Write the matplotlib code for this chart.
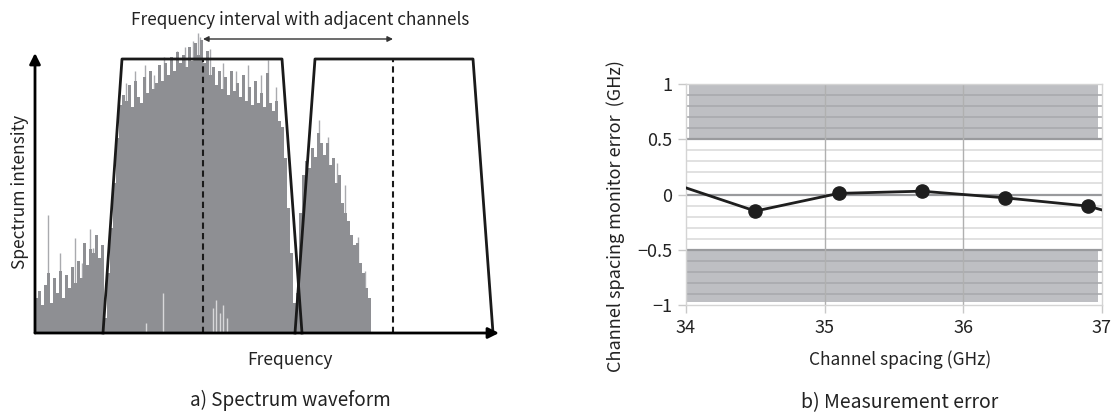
import numpy as np
import matplotlib.pyplot as plt

plt.rcParams['font.family'] = ['Noto Sans CJK JP', 'DejaVu Sans']

# ---- panel a) spectrum (heights, one bar every 3 units)
spec_x = np.arange(0, 334, 3)
spec_h = [35, 42, 28, 48, 60, 30, 55, 40, 62, 35, 58, 45, 66, 50, 72, 55, 90, 68, 84, 80,
          98, 75, 88, 15, 60, 105, 150, 195, 228, 238, 232, 248, 226, 252, 236, 230, 256, 240,
          262, 244, 250, 268, 252, 270, 258, 276, 262, 281, 270, 278, 266, 286, 272, 290, 278,
          293, 270, 282, 258, 266, 248, 262, 244, 256, 238, 262, 242, 250, 236, 258, 232, 246,
          228, 252, 230, 240, 226, 260, 230, 222, 232, 212, 206, 175, 125, 80, 30, 40, 120, 158,
          172, 165, 185, 176, 200, 190, 178, 190, 168, 175, 150, 158, 130, 120, 112, 98, 88, 90,
          70, 60, 45, 35]
# thin lighter spikes standing above the body
spike_x = [13, 25, 40, 47, 55, 58, 91, 100, 110, 119, 129, 142, 150, 158, 163, 165, 175,
           188, 201, 213, 226, 233, 241, 284, 293, 302, 310, 323, 330]
spike_h = [118, 80, 95, 70, 104, 85, 250, 262, 268, 258, 276, 282, 286, 292, 300, 296, 284,
           270, 262, 268, 258, 273, 246, 213, 196, 170, 148, 96, 62]
# light gaps near the bottom of the main band
gap_x = [111, 128, 178, 181, 185, 188, 192]
gap_h = [10, 40, 25, 33, 20, 28, 15]

# channel filter shapes (trapezoids) and channel centres
filt1_x = [68, 87, 247, 267]
filt2_x = [260, 280, 438, 458]
filt_top = 274
centre_x = [168, 358]

# ---- panel b) measurement error
line_x = [34.0, 34.5, 35.1, 35.7, 36.3, 36.9, 37.0]
line_y = [0.06, -0.15, 0.01, 0.03, -0.03, -0.105, -0.14]
x_ticks = [34, 35, 36, 37]
y_ticks = [-1, -0.5, 0, 0.5, 1]
y_tick_labels = ['\u22121', '\u22120.5', '0', '0.5', '1']

W, H = 1115, 416
fig = plt.figure(figsize=(W / 100, H / 100), dpi=100)

# ---------------- left panel
ax1 = fig.add_axes([35 / W, (H - 333) / H, 462 / W, 276 / H])
ax1.set_xlim(0, 462)
ax1.set_ylim(0, 276)
ax1.axis('off')

ax1.bar(spec_x, spec_h, width=3, color='#8e8f93', align='edge', clip_on=False, zorder=1)
ax1.vlines(spike_x, 0, spike_h, color='#a9aaae', lw=1, clip_on=False, zorder=0.5)
ax1.vlines(gap_x, 0, gap_h, color='#d8d8da', lw=1, zorder=2)

for fx in (filt1_x, filt2_x):
    ax1.plot(fx, [0, filt_top, filt_top, 0], color='#1a1a1a', lw=2, clip_on=False, zorder=4)
for cx in centre_x:
    ax1.plot([cx, cx], [0, filt_top], color='#1a1a1a', lw=1.5, dashes=(3, 2), zorder=4)

# axis arrows
ax1.annotate('', xy=(464, 0), xytext=(0, 0),
             arrowprops=dict(arrowstyle='-|>', lw=2, color='black', mutation_scale=16,
                             shrinkA=0, shrinkB=0), annotation_clip=False, zorder=5)
ax1.annotate('', xy=(0, 280), xytext=(0, 0),
             arrowprops=dict(arrowstyle='-|>', lw=2, color='black', mutation_scale=16,
                             shrinkA=0, shrinkB=0), annotation_clip=False, zorder=5)
# channel interval arrow
ax1.annotate('', xy=(358, 294), xytext=(168, 294),
             arrowprops=dict(arrowstyle='<|-|>', lw=1, color='#333333', mutation_scale=8,
                             shrinkA=0, shrinkB=0), annotation_clip=False)

fig.text(300 / W, 1 - 20 / H, 'Frequency interval with adjacent channels',
         ha='center', va='center', fontsize=12.3, color='#222222')
fig.text(290 / W, 1 - 360 / H, 'Frequency', ha='center', va='center', fontsize=12.5,
         color='#222222')
fig.text(20 / W, 1 - 192 / H, 'Spectrum intensity', ha='center', va='center', fontsize=12.5,
         rotation=90, color='#222222')
fig.text(290 / W, 1 - 400 / H, 'a) Spectrum waveform', ha='center', va='center',
         fontsize=13.6, color='#222222')

# ---------------- right panel
ax2 = fig.add_axes([686 / W, (H - 305) / H, 416 / W, 221 / H])
ax2.set_xlim(34, 37)
ax2.set_ylim(-1, 1)

ax2.axhspan(0.5, 1.0, xmin=0.007, xmax=0.99, color='#bebfc3', lw=0, zorder=0)
ax2.axhspan(-0.97, -0.5, xmin=0.0, xmax=0.99, color='#bebfc3', lw=0, zorder=0)

for gy in np.arange(-0.9, 1.0, 0.1):
    gy = round(gy, 1)
    if gy in (-0.5, 0.0, 0.5):
        continue
    inside = abs(gy) > 0.5
    ax2.axhline(gy, color='#a9aaae' if inside else '#dcdcdc', lw=1.2, zorder=1)
for gy in (-0.5, 0.0, 0.5):
    ax2.axhline(gy, color='#999a9d', lw=1.6, zorder=1)
for gx in (35, 36):
    ax2.axvline(gx, color='#b0b0b0', lw=1, zorder=1)

ax2.plot(line_x, line_y, color='#1e1e1e', lw=2, zorder=3, clip_on=True)
ax2.plot(line_x[1:-1], line_y[1:-1], 'o', color='#1e1e1e', ms=9.5, zorder=4, clip_on=False)

for s in ax2.spines.values():
    s.set_color('#d4d4d4')
    s.set_linewidth(1)
ax2.set_xticks(x_ticks)
ax2.set_xticklabels([str(t) for t in x_ticks])
ax2.set_yticks(y_ticks)
ax2.set_yticklabels(y_tick_labels)
ax2.tick_params(colors='#c8c8c8', labelcolor='#222222', labelsize=13, length=6, width=1,
                pad=4)

fig.text(616 / W, 1 - 216 / H, 'Channel spacing monitor error  (GHz)', ha='center',
         va='center', rotation=90, fontsize=13, color='#222222')
fig.text(900 / W, 1 - 360 / H, 'Channel spacing (GHz)', ha='center', va='center',
         fontsize=12.5, color='#222222')
fig.text(900 / W, 1 - 403 / H, 'b) Measurement error', ha='center', va='center',
         fontsize=14, color='#222222')

fig.savefig('out.png', dpi=100)
